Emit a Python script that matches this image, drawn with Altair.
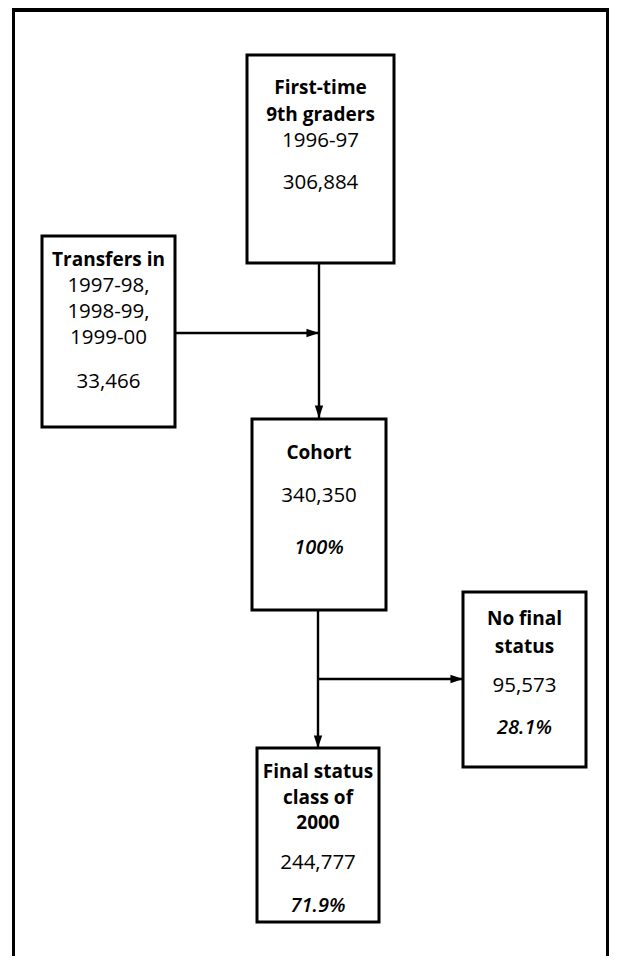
import altair as alt
import pandas as pd

# ---- content ----
node_ids = ["first", "transfers", "cohort", "nofinal", "final"]
node_titles = [["First-time", "9th graders"], ["Transfers in"], ["Cohort"],
               ["No final", "status"], ["Final status", "class of", "2000"]]
node_subtitles = [["1996-97"], ["1997-98,", "1998-99,", "1999-00"], [], [], []]
node_counts = ["306,884", "33,466", "340,350", "95,573", "244,777"]
node_percents = ["", "", "100%", "28.1%", "71.9%"]

# ---- layout (page pixels) ----
box_x0 = [247, 42, 252, 463, 257]
box_x1 = [394, 175, 386, 586, 379]
box_y0 = [55, 236, 419, 592, 748]
box_y1 = [263, 427, 610, 767, 922]
line_y = [[88, 115, 141, 183],
          [260, 286, 312, 338, 382],
          [453, 496, 548],
          [619, 647, 686, 728],
          [772, 798, 823, 863, 906]]

# connectors
conn_x = [319, 175, 318, 318]
conn_y = [263, 333, 610, 679]
conn_x2 = [319, 319, 318, 463]
conn_y2 = [418, 333, 748, 679]
conn_dir = ["down", "right", "down", "right"]

ARROW = {"down": "M-0.8,-2.4L0.8,-2.4L0,0Z", "right": "M-2.4,-0.8L-2.4,0.8L0,0Z"}

boxes = pd.DataFrame({"id": node_ids, "x": box_x0, "x2": box_x1, "y": box_y0, "y2": box_y1})

rows = []
for i, nid in enumerate(node_ids):
    lines = ([(t, "title") for t in node_titles[i]]
             + [(t, "plain") for t in node_subtitles[i]]
             + [(node_counts[i], "plain")]
             + ([(node_percents[i], "pct")] if node_percents[i] else []))
    cx = (box_x0[i] + box_x1[i]) / 2
    for (txt, kind), yy in zip(lines, line_y[i]):
        rows.append({"id": nid, "text": txt, "x": cx, "y": yy, "kind": kind})
texts = pd.DataFrame(rows)

conns = pd.DataFrame({"x": conn_x, "y": conn_y, "x2": conn_x2, "y2": conn_y2,
                      "shape": [ARROW[d] for d in conn_dir]})

frame = pd.DataFrame({"x": [13.5], "x2": [607.5], "y": [10], "y2": [990]})
band = pd.DataFrame({"x": [12], "x2": [609], "y": [8], "y2": [12]})

xs = alt.Scale(domain=[8, 609])
ys = alt.Scale(domain=[8, 956], reverse=True)
FONT = "Open Sans"


def X(f="x"):
    return alt.X(f"{f}:Q", scale=xs, axis=None)


def Y(f="y"):
    return alt.Y(f"{f}:Q", scale=ys, axis=None)


frame_l = alt.Chart(frame).mark_rect(fill="white", stroke="black", strokeWidth=3).encode(
    x=X(), x2="x2:Q", y=Y(), y2="y2:Q")
band_l = alt.Chart(band).mark_rect(fill="black").encode(x=X(), x2="x2:Q", y=Y(), y2="y2:Q")

lines_l = alt.Chart(conns).mark_rule(color="black", strokeWidth=2.4).encode(
    x=X(), x2="x2:Q", y=Y(), y2="y2:Q")
heads_l = alt.Chart(conns).mark_point(filled=True, color="black", size=110, opacity=1).encode(
    x=X("x2"), y=Y("y2"), shape=alt.Shape("shape:N", scale=None, legend=None))

boxes_l = alt.Chart(boxes).mark_rect(fill="white", stroke="black", strokeWidth=3).encode(
    x=X(), x2="x2:Q", y=Y(), y2="y2:Q")


def text_layer(kind, size, **kw):
    return alt.Chart(texts).transform_filter(alt.datum.kind == kind).mark_text(
        font=FONT, fontSize=size, color="black", baseline="middle", align="center", **kw
    ).encode(x=X(), y=Y(), text="text:N")


title_l = text_layer("title", 19, fontWeight="bold")
plain_l = text_layer("plain", 20.5)
pct_l = text_layer("pct", 20, fontStyle="italic", fontWeight=600)

chart = alt.layer(frame_l, band_l, lines_l, heads_l, boxes_l, title_l, plain_l, pct_l).properties(
    width=601, height=948, padding=0, autosize=alt.AutoSizeParams(type="none")
).configure_view(stroke=None)

chart.save("out.html", embed_options={"renderer": "svg", "actions": False})
